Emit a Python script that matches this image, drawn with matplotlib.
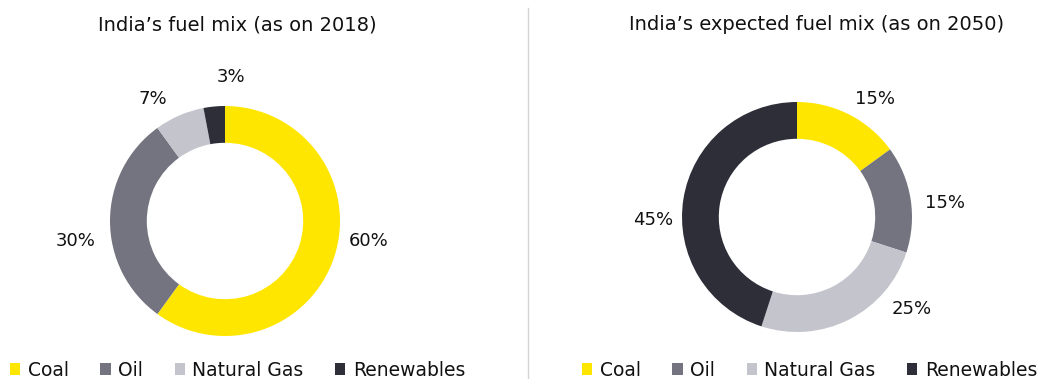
import matplotlib
matplotlib.use("Agg")
import matplotlib.pyplot as plt
from matplotlib.patches import Patch
from matplotlib.lines import Line2D

categories = ["Coal", "Oil", "Natural Gas", "Renewables"]
values_2018 = [60, 30, 7, 3]
values_2050 = [15, 15, 25, 45]
titles = ["India\u2019s fuel mix (as on 2018)", "India\u2019s expected fuel mix (as on 2050)"]
colors = ["#FFE600", "#747480", "#C4C4CD", "#2E2E38"]

plt.rcParams['font.family'] = ['DejaVu Sans']

W, H = 1041, 379
fig = plt.figure(figsize=(W / 100, H / 100), dpi=100)

R_PX = 115.0
XL, YL = 1.8, 1.5

def donut_axes(cx, cy_top):
    cy = H - cy_top
    return fig.add_axes([(cx - XL * R_PX) / W, (cy - YL * R_PX) / H,
                         2 * XL * R_PX / W, 2 * YL * R_PX / H])

# label offsets (layout) in units of radius
label_pos_2018 = [(1.25, -0.17), (-1.30, -0.17), (-0.63, 1.06), (0.05, 1.25)]
label_pos_2050 = [(0.68, 1.03), (1.29, 0.12), (1.00, -0.80), (-1.25, -0.03)]

for (cx, cy_top), vals, lpos, title, tx in [((225, 221), values_2018, label_pos_2018, titles[0], 237),
                                            ((797, 217), values_2050, label_pos_2050, titles[1], 817)]:
    ax = donut_axes(cx, cy_top)
    ax.pie(vals, colors=colors, startangle=90, counterclock=False, radius=1.0,
           wedgeprops=dict(width=0.32, edgecolor='none'))
    ax.set_xlim(-XL, XL)
    ax.set_ylim(-YL, YL)
    ax.set_aspect('auto')
    ax.axis('off')
    for v, (lx, ly) in zip(vals, lpos):
        ax.text(lx, ly, f"{v}%", ha='center', va='center', fontsize=13, color='#111111')
    fig.text(tx / W, 1 - 25 / H, title, ha='center', va='center', fontsize=14, color='#111111')

handles = [Patch(facecolor=c, edgecolor='none', label=l) for c, l in zip(colors, categories)]
for x0 in [10, 582]:
    fig.legend(handles=handles, loc='center left', bbox_to_anchor=(x0 / W, 1 - 370 / H),
               ncol=4, frameon=False, fontsize=13.5, handlelength=0.55, handleheight=0.55,
               handletextpad=0.4, columnspacing=1.68, borderpad=0, borderaxespad=0,
               labelcolor='#111111')

fig.add_artist(Line2D([528 / W, 528 / W], [0, 1 - 8 / H], transform=fig.transFigure,
                      color='#d4d4d4', linewidth=1))

fig.savefig("out.png", dpi=100)
